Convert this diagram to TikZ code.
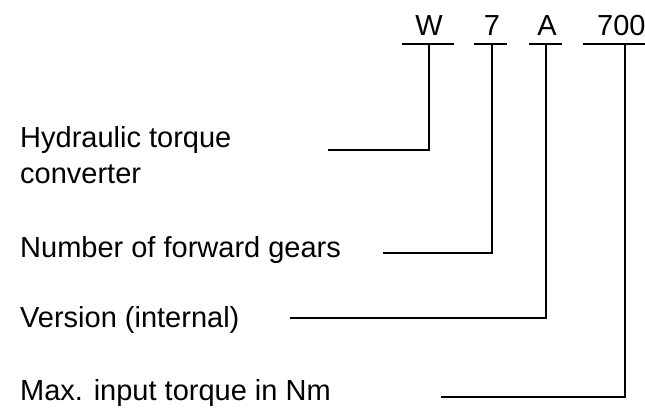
\documentclass[tikz,border=0pt]{standalone}
\usepackage{fontspec}
\setmainfont{Liberation Sans}
\begin{document}
\begin{tikzpicture}[x=1pt,y=-1pt,
    code/.style={font=\fontsize{29}{36}\selectfont, inner sep=0pt, anchor=base},
    lbl/.style={font=\fontsize{29}{36}\selectfont, inner sep=0pt, anchor=base west, align=left},
    lead/.style={line width=1.5pt}]
      \useasboundingbox (0,0) rectangle (645,408);
      \clip (0,0) rectangle (645,408);

      % Type designation
      \node[code] (cW) at (429,35) {W};
      \node[code] (c7) at (492,35) {7};
      \node[code] (cA) at (547,35) {A};
      \node[code, anchor=base west] (c700) at (597,35) {700};

      % Underlines
      \draw[lead] (402,44) -- (454,44);
      \draw[lead] (474,44) -- (507,44);
      \draw[lead] (529,44) -- (562,44);
      \draw[lead] (583,44) -- (650,44);

      % Captions
      \node[lbl] (hyd) at (20,183) {Hydraulic torque\\converter};
      \node[lbl] (gears) at (20,257) {Number of forward gears};
      \node[lbl] (vers) at (20,327) {Version (internal)};
      \node[lbl] (torq) at (20,400) {Max. input torque in Nm};

      % Leader lines
      \coordinate (tW) at (429,44);
      \coordinate (t7) at (492,44);
      \coordinate (tA) at (546,44);
      \coordinate (t700) at (625,44);
      \coordinate (eW) at (328,150);
      \coordinate (e7) at (383,253);
      \coordinate (eA) at (290,318);
      \coordinate (e700) at (441,397);
      \draw[lead] (tW) |- (eW);
      \draw[lead] (t7) |- (e7);
      \draw[lead] (tA) |- (eA);
      \draw[lead] (t700) |- (e700);
    \end{tikzpicture}
\end{document}
